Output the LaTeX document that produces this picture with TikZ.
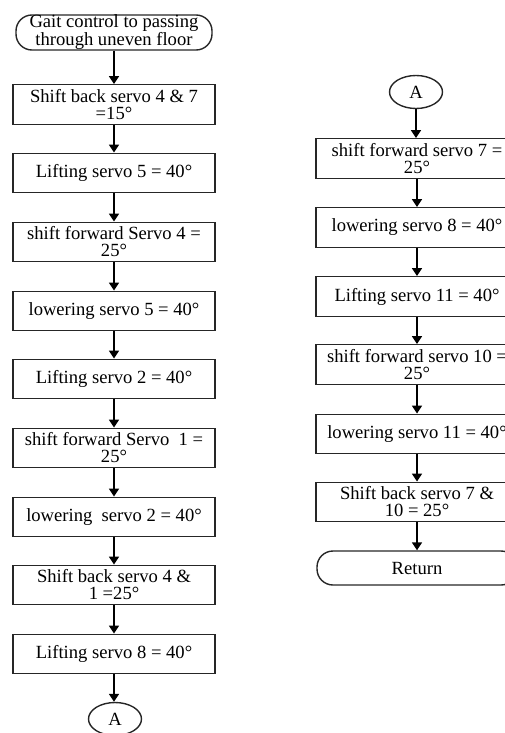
\documentclass[tikz,border=0pt]{standalone}
\usepackage{fontspec}
\setmainfont{Liberation Serif}
\usetikzlibrary{arrows.meta,shapes.geometric}

\begin{document}
\begin{tikzpicture}[x=1pt,y=-1pt,
  every node/.style={font=\fontsize{18.6}{17}\selectfont,align=center,inner sep=1pt},
  box/.style={draw=black!85,line width=1.4pt,minimum width=202pt,minimum height=39.5pt,inner sep=0pt},
  term/.style={draw=black!85,line width=1.4pt,rounded corners=16pt,minimum height=34pt,inner sep=0pt},
  conn/.style={draw=black!85,line width=1.4pt,ellipse,minimum width=53pt,minimum height=33pt,inner sep=0pt},
  flow/.style={-{Triangle[width=10pt,length=8pt]},line width=1.6pt}]

\clip (0,0) rectangle (505,733);

%% left column
\node[term,minimum width=196pt] (start) at (114,32.5) {Gait control to passing\\through uneven floor};
\node[box] (l1) at (114,104.5) {Shift back servo 4 \& 7\\=15°};
\node[box] (l2) at (114,173)   {Lifting servo 5 = 40°};
\node[box] (l3) at (114,242)   {shift forward Servo 4 =\\25°};
\node[box] (l4) at (114,311)   {lowering servo 5 = 40°};
\node[box] (l5) at (114,379)   {Lifting servo 2 = 40°};
\node[box] (l6) at (114,448)   {shift forward Servo~ 1 =\\25°};
\node[box] (l7) at (114,517)   {lowering~ servo 2 = 40°};
\node[box] (l8) at (114,585)   {Shift back servo 4 \&\\1 =25°};
\node[box] (l9) at (114,654)   {Lifting servo 8 = 40°};
\node[conn] (la) at (115,719)  {A};

%% right column
\node[conn] (ra) at (416,92)   {A};
\node[box] (r1) at (417,158.5) {shift forward servo 7 =\\25°};
\node[box] (r2) at (417,227.5) {lowering servo 8 = 40°};
\node[box] (r3) at (417,296.5) {Lifting servo 11 = 40°};
\node[box] (r4) at (417,364.5) {shift forward servo 10 =\\25°};
\node[box] (r5) at (417,434)   {lowering servo 11 = 40°};
\node[box] (r6) at (417,502)   {Shift back servo 7 \&\\10 = 25°};
\node[term,minimum width=200pt] (ret) at (417,568) {Return};

%% arrows
\draw[flow] (start) -- (l1);
\draw[flow] (l1) -- (l2);
\draw[flow] (l2) -- (l3);
\draw[flow] (l3) -- (l4);
\draw[flow] (l4) -- (l5);
\draw[flow] (l5) -- (l6);
\draw[flow] (l6) -- (l7);
\draw[flow] (l7) -- (l8);
\draw[flow] (l8) -- (l9);
\draw[flow] (l9) -- (l9 |- la.north);
\draw[flow] (ra) -- (ra |- r1.north);
\draw[flow] (r1) -- (r2);
\draw[flow] (r2) -- (r3);
\draw[flow] (r3) -- (r4);
\draw[flow] (r4) -- (r5);
\draw[flow] (r5) -- (r6);
\draw[flow] (r6) -- (ret);
\end{tikzpicture}
\end{document}
